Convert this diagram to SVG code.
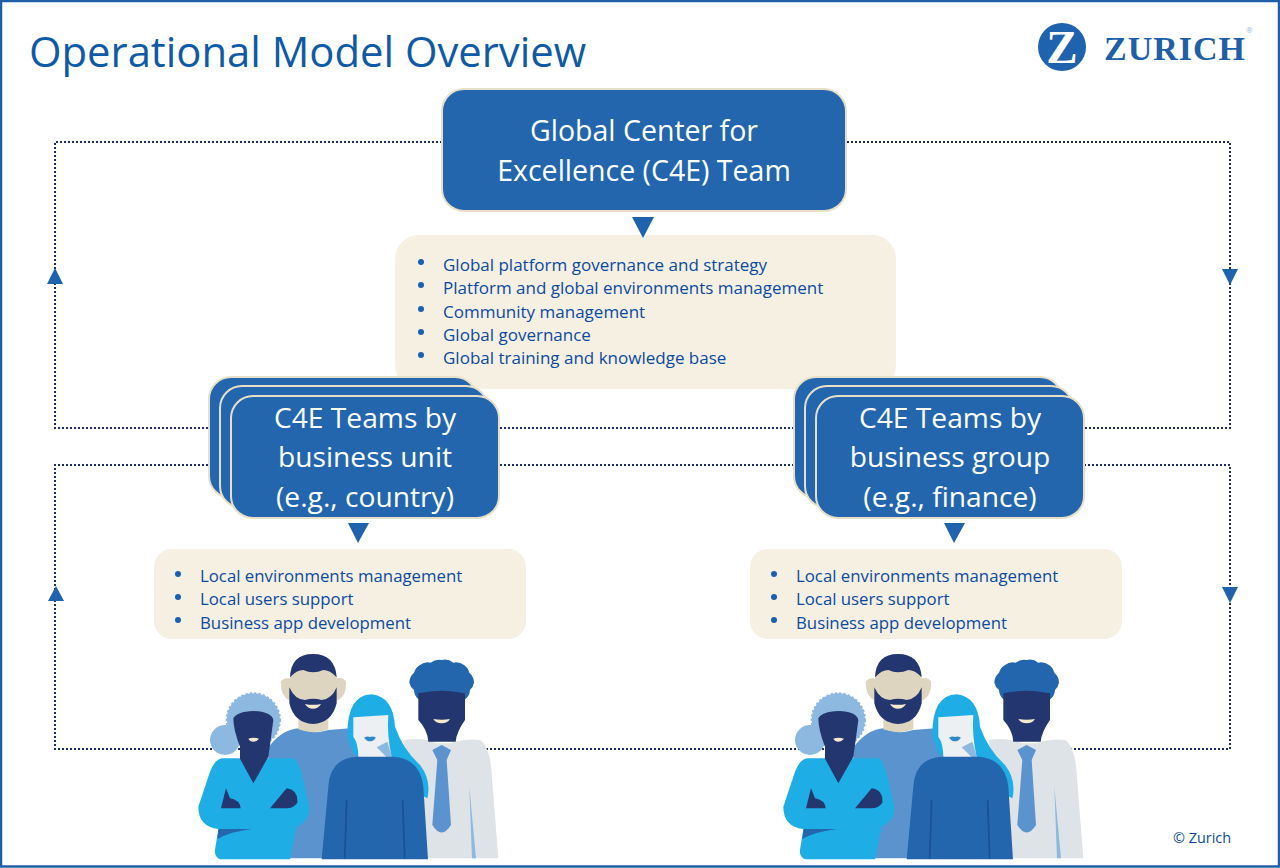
<svg xmlns="http://www.w3.org/2000/svg" width="1280" height="868" viewBox="0 0 1280 868">
<style>
text{font-family:"Open Sans","Noto Sans","Liberation Sans",sans-serif}
.title{font-size:41.8px;fill:#0f5aa6}
.box{fill:#2366ae;stroke:#e8dfc8;stroke-width:2}
.boxt{font-size:28.5px;fill:#fff;text-anchor:middle}
.boxs{font-size:28.2px;fill:#fff;text-anchor:middle}
.note{fill:#f6f0e3}
.li{font-size:17px;fill:#0a4a9e}
.ls{font-size:16.8px;fill:#0a4a9e}
.dot{fill:#1a5fb0}
.link{fill:none;stroke:#1d2c66;stroke-width:2;stroke-dasharray:2 2}
.arrow{fill:#1f62ad}
.logot{font-family:"Liberation Serif",serif;font-weight:bold}
</style>
<defs>
<g id="people" transform="translate(190 640) scale(.33333)">
<path fill="#dde3e6" d="M640,300Q700,290 740,310L780,310Q830,295 870,300Q900,320 905,400L925,655L700,655Z"/>
<path fill="#8db8e0" d="M838,440L858,655L846,655Z"/>
<path fill="#2366ae" d="M685,178A40,40 0 0 1 672,150A40,40 0 0 1 658,128A40,40 0 0 1 672,98A40,40 0 0 1 690,75A40,40 0 0 1 722,68A40,40 0 0 1 755,60A40,40 0 0 1 790,68A40,40 0 0 1 822,75A40,40 0 0 1 838,98A40,40 0 0 1 852,128A40,40 0 0 1 840,150A40,40 0 0 1 826,178L755,180Z"/>
<path fill="#23366f" d="M685,160Q755,145 825,160L825,240Q800,275 797,305L715,305Q713,270 685,240Z"/>
<path fill="#f5e9d0" d="M730,237Q755,241 780,237Q772,250 755,250Q738,250 730,237Z"/>
<path fill="#5b93ce" d="M727,330L755,315L783,330L770,360L742,360ZM742,360L770,360L783,555Q755,600 727,555Z"/>
<path fill="#5b93ce" d="M230,330Q270,270 325,265Q370,285 415,270L480,265L510,360L400,655L300,655Z"/>
<path fill="#ddd5bf" d="M325,235L415,235L415,268Q370,285 325,268Z"/>
<path fill="#ddd5bf" d="M272,125Q280,112 300,115L305,80L435,80L440,115Q460,110 468,125Q470,170 440,182L300,182Q272,170 272,125Z"/>
<path fill="#23366f" d="M300,112Q303,42 369,42Q435,42 440,112Q420,90 400,90Q369,104 340,90Q320,90 300,112Z"/>
<path fill="#23366f" d="M298,142Q315,180 345,180Q369,172 395,180Q425,178 440,142L440,190Q425,250 369,252Q313,250 298,190Z"/>
<path fill="#f5e9d0" d="M345,192Q369,197 393,192Q385,206 369,206Q353,206 345,192Z"/>
<path fill="#1fade6" d="M472,290Q470,165 545,163Q610,170 615,260Q640,330 690,375Q725,420 712,475L600,420L490,340Z"/>
<path fill="#ecf0f3" d="M490,232L595,225Q590,280 605,352L505,352Q505,310 490,290Z"/>
<path fill="#8db8e0" d="M560,322L592,305L606,352L590,352Z"/>
<path fill="#2e8ac6" d="M522,293Q532,288 540,291Q548,288 558,293Q550,304 540,304Q530,304 522,293Z"/>
<circle cx="190" cy="240" r="80" fill="#8db8e0" stroke="#8db8e0" stroke-width="6" stroke-dasharray="7 6"/>
<circle cx="105" cy="300" r="45" fill="#8db8e0"/>
<path fill="#1fade6" d="M100,355L310,355Q330,360 350,470Q375,535 320,560L300,658L90,658Q72,650 75,630L85,567Q25,560 25,500L60,395Q75,355 100,355Z"/>
<path fill="#23366f" d="M150,356L150,320Q130,270 130,235Q140,215 190,213Q245,215 250,240Q245,280 235,350L190,430Z"/>
<path fill="#f5e9d0" d="M175,296Q190,290 207,296Q200,305 190,305Q180,305 175,296Z"/>
<path fill="#23366f" d="M93,505L108,445L120,475Q150,480 152,505ZM240,505L290,445Q325,450 322,488Q310,505 290,505Z"/>
<path fill="#2366ae" d="M82,597Q120,575 185,567L86,567Z"/>
<path fill="#2366ae" d="M395,658L415,440Q420,355 500,350L610,350Q690,355 700,440L714,658Z"/>
<path fill="none" stroke="#1e4e92" stroke-width="5" d="M470,480L464,656M638,480L644,656"/>
</g>
</defs>
<rect x="1" y="1" width="1278" height="865.500" fill="#fff" stroke="#1f5fa8" stroke-width="2.500"/>
<text class="title" x="29" y="67">Operational Model Overview</text>
<g id="logo">
<circle cx="1062" cy="47" r="24" fill="#1f62ad"/>
<text class="logot" x="1062" y="63" font-size="47" fill="#fff" text-anchor="middle">Z</text>
<text class="logot" x="1104" y="60" font-size="34" fill="#1f5fa8" textLength="141">ZURICH</text>
<text x="1246" y="33" font-size="8" fill="#8db8e0">®</text>
</g>
<g id="connectors">
<path class="link" d="M442,142H55V428H210M500,428H793M1085,428H1230V142H846"/>
<path class="link" d="M208,465H55V749H1230V465H1085M500,465H793"/>
<path class="arrow" d="M47,284L55,268L63,284ZM1222,269L1238,269L1230,285ZM48,601L56,586L64,601ZM1222,587L1238,587L1230,603Z"/>
</g>
<g id="global-notes">
<rect class="note" x="395" y="235" width="501" height="154" rx="24"/>
<g class="dot"><circle cx="421" cy="262" r="3"/><circle cx="421" cy="285" r="3"/><circle cx="421" cy="309" r="3"/><circle cx="421" cy="332" r="3"/><circle cx="421" cy="355" r="3"/></g>
<text class="li" x="443" y="271">Global platform governance and strategy</text>
<text class="li" x="443" y="294">Platform and global environments management</text>
<text class="li" x="443" y="318">Community management</text>
<text class="li" x="443" y="341">Global governance</text>
<text class="li" x="443" y="364">Global training and knowledge base</text>
</g>
<g id="global-team">
<rect class="box" x="442" y="89" width="404" height="122" rx="22"/>
<text class="boxt" x="644" y="141">Global Center for</text>
<text class="boxt" x="644" y="181">Excellence (C4E) Team</text>
<path class="arrow" d="M632,217H654L643,238Z"/>
</g>
<g id="unit-team">
<rect class="box" x="209" y="377" width="268" height="121" rx="22"/>
<rect class="box" x="220" y="386" width="268" height="122" rx="22"/>
<rect class="box" x="231" y="396" width="268" height="122" rx="22"/>
<text class="boxs" x="365" y="428">C4E Teams by</text>
<text class="boxs" x="365" y="467">business unit</text>
<text class="boxs" x="365" y="507">(e.g., country)</text>
<path class="arrow" d="M348,523H369L358,543Z"/>
</g>
<g id="group-team">
<rect class="box" x="794" y="377" width="268" height="121" rx="22"/>
<rect class="box" x="805" y="386" width="268" height="122" rx="22"/>
<rect class="box" x="816" y="396" width="268" height="122" rx="22"/>
<text class="boxs" x="950" y="428">C4E Teams by</text>
<text class="boxs" x="950" y="467">business group</text>
<text class="boxs" x="950" y="507">(e.g., finance)</text>
<path class="arrow" d="M944,523H965L954,543Z"/>
</g>
<g id="unit-notes">
<rect class="note" x="154" y="549" width="372" height="90" rx="18"/>
<g class="dot"><circle cx="178" cy="574" r="3"/><circle cx="178" cy="597" r="3"/><circle cx="178" cy="620" r="3"/></g>
<text class="ls" x="200" y="582">Local environments management</text>
<text class="ls" x="200" y="605">Local users support</text>
<text class="ls" x="200" y="629">Business app development</text>
</g>
<g id="group-notes">
<rect class="note" x="750" y="549" width="372" height="90" rx="18"/>
<g class="dot"><circle cx="774" cy="574" r="3"/><circle cx="774" cy="597" r="3"/><circle cx="774" cy="620" r="3"/></g>
<text class="ls" x="796" y="582">Local environments management</text>
<text class="ls" x="796" y="605">Local users support</text>
<text class="ls" x="796" y="629">Business app development</text>
</g>
<g id="people-left"><use href="#people"/></g>
<g id="people-right"><use href="#people" x="585"/></g>
<text x="1173" y="843" font-size="14.4" fill="#0a4a9e">© Zurich</text>
</svg>
